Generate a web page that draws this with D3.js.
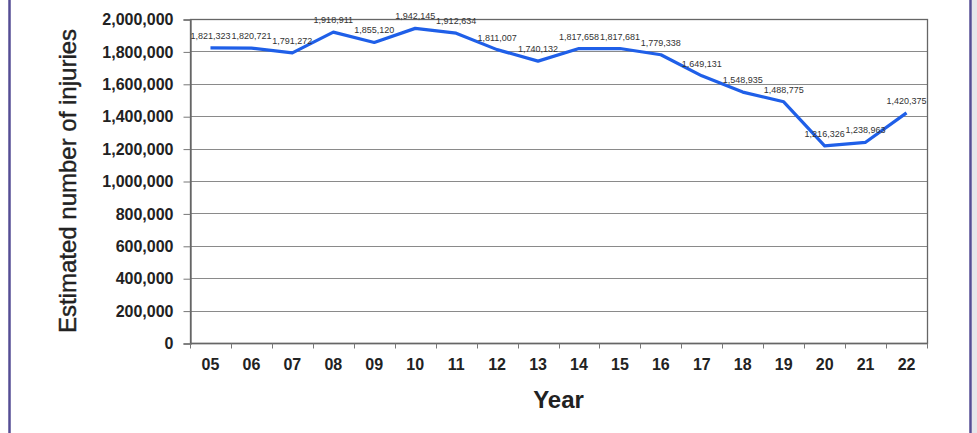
<!DOCTYPE html>
<html>
<head>
<meta charset="utf-8">
<script src="https://cdn.jsdelivr.net/npm/d3@7"></script>
<style>
  html, body { margin: 0; padding: 0; background: #fff; }
  svg { display: block; }
</style>
</head>
<body>
<svg id="chart" width="977" height="433"></svg>
<script>
const years = ["05","06","07","08","09","10","11","12","13","14","15","16","17","18","19","20","21","22"];
const injuries = [1821323, 1820721, 1791272, 1918911, 1855120, 1942145, 1912634, 1811007, 1740132,
                  1817658, 1817681, 1779338, 1649131, 1548935, 1488775, 1216326, 1238963, 1420375];
const yTicks = [0, 200000, 400000, 600000, 800000, 1000000, 1200000, 1400000, 1600000, 1800000, 2000000];
const xTitle = "Year";
const yTitle = "Estimated number of injuries";

const svg = d3.select("#chart");
const W = 977, H = 433;
const m = { left: 190, right: 50, top: 19, bottom: 90 };

// frame
svg.append("rect").attr("x", 972).attr("y", 0).attr("width", 5).attr("height", H).attr("fill", "#e6e6ea");
svg.append("line").attr("x1", 9.5).attr("x2", 9.5).attr("y1", 0).attr("y2", H)
  .attr("stroke", "#554d94").attr("stroke-width", 2.5);
svg.append("line").attr("x1", 970.5).attr("x2", 970.5).attr("y1", 0).attr("y2", H)
  .attr("stroke", "#554d94").attr("stroke-width", 2.5);

const x = d3.scaleBand().domain(years).range([m.left, W - m.right]);
const y = d3.scaleLinear().domain([0, 2000000]).range([H - m.bottom, m.top]);
const fmt = d3.format(",");

// gridlines
svg.append("g").selectAll("line").data(yTicks.filter(d => d > 0)).join("line")
  .attr("x1", m.left).attr("x2", W - m.right)
  .attr("y1", d => Math.round(y(d)) + 0.5).attr("y2", d => Math.round(y(d)) + 0.5)
  .attr("stroke", "#8a8a8a").attr("stroke-width", 1.2);

// plot border
svg.append("rect")
  .attr("x", m.left + 0.5).attr("y", Math.round(y(2000000)) + 0.5)
  .attr("width", W - m.right - m.left).attr("height", Math.round(y(0)) - Math.round(y(2000000)))
  .attr("fill", "none").attr("stroke", "#666").attr("stroke-width", 1.3);

// y axis
const yAxis = d3.axisLeft(y).tickValues(yTicks).tickFormat(fmt).tickSize(7).tickPadding(10);
const gy = svg.append("g").attr("transform", `translate(${m.left + 0.5},0.5)`).call(yAxis);
gy.select(".domain").attr("stroke", "#666").attr("stroke-width", 1.3);
gy.selectAll(".tick line").attr("stroke", "#777");
gy.selectAll("text").attr("font-family", "Liberation Sans, Arial, sans-serif")
  .attr("font-size", 16).attr("font-weight", "bold").attr("fill", "#222");

// x axis: ticks at band boundaries
const gx = svg.append("g").attr("transform", `translate(0,${Math.round(y(0)) + 0.5})`);
gx.append("line").attr("x1", m.left).attr("x2", W - m.right).attr("stroke", "#666").attr("stroke-width", 1.3);
const bounds = years.map(d => x(d)).concat([x(years[years.length - 1]) + x.bandwidth()]);
gx.selectAll("line.tk").data(bounds).join("line").attr("class", "tk")
  .attr("x1", d => Math.round(d) + 0.5).attr("x2", d => Math.round(d) + 0.5)
  .attr("y1", 0).attr("y2", 5).attr("stroke", "#777");
gx.selectAll("text").data(years).join("text")
  .attr("x", d => x(d) + x.bandwidth() / 2).attr("y", 26)
  .attr("text-anchor", "middle")
  .attr("font-family", "Liberation Sans, Arial, sans-serif")
  .attr("font-size", 16).attr("font-weight", "bold").attr("fill", "#222")
  .text(d => d);

// titles
svg.append("text")
  .attr("x", (m.left + W - m.right) / 2).attr("y", 408)
  .attr("text-anchor", "middle")
  .attr("font-family", "Liberation Sans, Arial, sans-serif")
  .attr("font-size", 24).attr("font-weight", "bold").attr("fill", "#222")
  .text(xTitle);
svg.append("text")
  .attr("transform", `translate(76,${(y(0) + y(2000000)) / 2}) rotate(-90)`)
  .attr("text-anchor", "middle")
  .attr("font-family", "Liberation Sans, Arial, sans-serif")
  .attr("font-size", 24).attr("fill", "#222")
  .attr("stroke", "#222").attr("stroke-width", 0.4)
  .text(yTitle);

// line
const line = d3.line().x((d, i) => x(years[i]) + x.bandwidth() / 2).y(d => y(d));
svg.append("path").datum(injuries)
  .attr("d", line).attr("fill", "none")
  .attr("stroke", "#1f5fe8").attr("stroke-width", 3.2).attr("stroke-linejoin", "round");

// data labels
svg.append("g").selectAll("text").data(injuries).join("text")
  .attr("x", (d, i) => x(years[i]) + x.bandwidth() / 2)
  .attr("y", d => y(d) - 9)
  .attr("text-anchor", "middle")
  .attr("font-family", "Liberation Sans, Arial, sans-serif")
  .attr("font-size", 9).attr("fill", "#333")
  .text(d => fmt(d));
</script>
</body>
</html>
